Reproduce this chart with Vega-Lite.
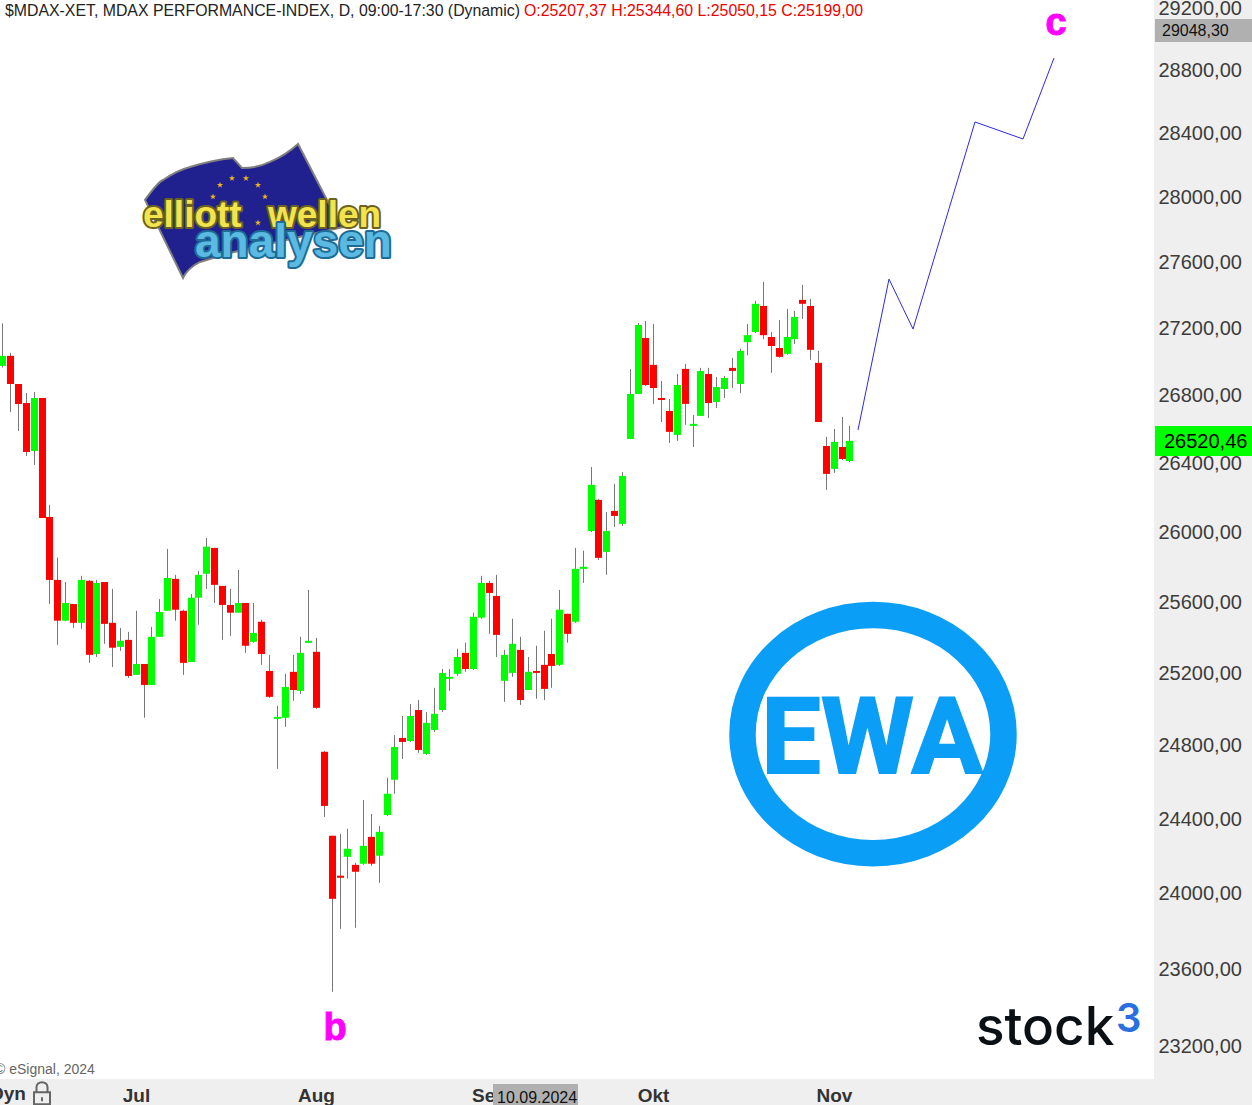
{"$schema":"https://vega.github.io/schema/vega-lite/v6.json","width":1154,"height":1079,"autosize":"none","padding":{"left":0,"top":0,"right":98,"bottom":26},"background":"#efefef","view":{"fill":"white","stroke":null},
"datasets":{"candles":[
{"bar":0,"open":26964,"high":27219,"low":26954,"close":27024,"dir":"up"},{"bar":1,"open":27024,"high":27042,"low":26690,"close":26856,"dir":"down"},{"bar":2,"open":26856,"high":26856,"low":26578,"close":26737,"dir":"down"},{"bar":3,"open":26743,"high":26802,"low":26431,"close":26455,"dir":"down"},{"bar":4,"open":26461,"high":26808,"low":26379,"close":26773,"dir":"up"},{"bar":5,"open":26773,"high":26773,"low":26071,"close":26071,"dir":"down"},{"bar":6,"open":26077,"high":26147,"low":25579,"close":25716,"dir":"down"},{"bar":7,"open":25716,"high":25843,"low":25349,"close":25485,"dir":"down"},{"bar":8,"open":25485,"high":25704,"low":25485,"close":25585,"dir":"up"},{"bar":9,"open":25579,"high":25579,"low":25444,"close":25473,"dir":"down"},
{"bar":10,"open":25473,"high":25739,"low":25439,"close":25716,"dir":"up"},{"bar":11,"open":25711,"high":25716,"low":25248,"close":25293,"dir":"down"},{"bar":12,"open":25298,"high":25716,"low":25281,"close":25699,"dir":"up"},{"bar":13,"open":25704,"high":25704,"low":25355,"close":25467,"dir":"down"},{"bar":14,"open":25473,"high":25665,"low":25225,"close":25333,"dir":"down"},{"bar":15,"open":25338,"high":25444,"low":25315,"close":25372,"dir":"up"},{"bar":16,"open":25377,"high":25422,"low":25164,"close":25175,"dir":"down"},{"bar":17,"open":25181,"high":25541,"low":25181,"close":25242,"dir":"up"},{"bar":18,"open":25242,"high":25242,"low":24943,"close":25125,"dir":"down"},{"bar":19,"open":25125,"high":25450,"low":25125,"close":25394,"dir":"up"},
{"bar":20,"open":25394,"high":25607,"low":25394,"close":25534,"dir":"up"},{"bar":21,"open":25541,"high":25893,"low":25541,"close":25727,"dir":"up"},{"bar":22,"open":25722,"high":25745,"low":25485,"close":25547,"dir":"down"},{"bar":23,"open":25541,"high":25547,"low":25181,"close":25248,"dir":"down"},{"bar":24,"open":25253,"high":25636,"low":25253,"close":25615,"dir":"up"},{"bar":25,"open":25615,"high":25767,"low":25462,"close":25745,"dir":"up"},{"bar":26,"open":25751,"high":25956,"low":25665,"close":25906,"dir":"up"},{"bar":27,"open":25899,"high":25899,"low":25585,"close":25688,"dir":"down"},{"bar":28,"open":25682,"high":25682,"low":25377,"close":25574,"dir":"down"},{"bar":29,"open":25574,"high":25665,"low":25399,"close":25530,"dir":"down"},
{"bar":30,"open":25530,"high":25773,"low":25530,"close":25585,"dir":"up"},{"bar":31,"open":25585,"high":25585,"low":25304,"close":25344,"dir":"down"},{"bar":32,"open":25366,"high":25585,"low":25360,"close":25416,"dir":"up"},{"bar":33,"open":25479,"high":25490,"low":25237,"close":25298,"dir":"down"},{"bar":34,"open":25203,"high":25293,"low":25053,"close":25059,"dir":"down"},{"bar":35,"open":24937,"high":25009,"low":24663,"close":24948,"dir":"up"},{"bar":36,"open":24943,"high":25187,"low":24893,"close":25114,"dir":"up"},{"bar":37,"open":25198,"high":25293,"low":25037,"close":25097,"dir":"down"},{"bar":38,"open":25092,"high":25394,"low":25075,"close":25304,"dir":"up"},{"bar":39,"open":25360,"high":25659,"low":25360,"close":25372,"dir":"up"},
{"bar":40,"open":25310,"high":25388,"low":24992,"close":24998,"dir":"down"},{"bar":41,"open":24756,"high":24761,"low":24401,"close":24461,"dir":"down"},{"bar":42,"open":24300,"high":24300,"low":23475,"close":23963,"dir":"down"},{"bar":43,"open":24086,"high":24310,"low":23804,"close":24075,"dir":"down"},{"bar":44,"open":24187,"high":24337,"low":24070,"close":24230,"dir":"up"},{"bar":45,"open":24144,"high":24155,"low":23810,"close":24107,"dir":"down"},{"bar":46,"open":24150,"high":24493,"low":24144,"close":24246,"dir":"up"},{"bar":47,"open":24294,"high":24417,"low":24139,"close":24150,"dir":"down"},{"bar":48,"open":24193,"high":24353,"low":24048,"close":24321,"dir":"up"},{"bar":49,"open":24412,"high":24614,"low":24406,"close":24527,"dir":"up"},
{"bar":50,"open":24603,"high":24848,"low":24527,"close":24782,"dir":"up"},{"bar":51,"open":24832,"high":24953,"low":24717,"close":24810,"dir":"down"},{"bar":52,"open":24815,"high":25019,"low":24810,"close":24953,"dir":"up"},{"bar":53,"open":24986,"high":25041,"low":24750,"close":24766,"dir":"down"},{"bar":54,"open":24744,"high":24975,"low":24739,"close":24915,"dir":"up"},{"bar":55,"open":24876,"high":25109,"low":24865,"close":24965,"dir":"up"},{"bar":56,"open":24986,"high":25214,"low":24975,"close":25192,"dir":"up"},{"bar":57,"open":25159,"high":25214,"low":25092,"close":25170,"dir":"up"},{"bar":58,"open":25187,"high":25327,"low":25176,"close":25281,"dir":"up"},{"bar":59,"open":25304,"high":25361,"low":25198,"close":25214,"dir":"down"},
{"bar":60,"open":25214,"high":25530,"low":25209,"close":25507,"dir":"up"},{"bar":61,"open":25502,"high":25739,"low":25496,"close":25699,"dir":"up"},{"bar":62,"open":25699,"high":25711,"low":25411,"close":25642,"dir":"down"},{"bar":63,"open":25625,"high":25745,"low":25281,"close":25405,"dir":"down"},{"bar":64,"open":25148,"high":25321,"low":25031,"close":25293,"dir":"up"},{"bar":65,"open":25192,"high":25496,"low":25170,"close":25355,"dir":"up"},{"bar":66,"open":25321,"high":25394,"low":25014,"close":25041,"dir":"down"},{"bar":67,"open":25097,"high":25281,"low":25097,"close":25198,"dir":"up"},{"bar":68,"open":25203,"high":25344,"low":25048,"close":25192,"dir":"down"},{"bar":69,"open":25237,"high":25428,"low":25041,"close":25103,"dir":"down"},
{"bar":70,"open":25298,"high":25496,"low":25109,"close":25231,"dir":"down"},{"bar":71,"open":25237,"high":25659,"low":25231,"close":25547,"dir":"up"},{"bar":72,"open":25524,"high":25524,"low":25361,"close":25411,"dir":"down"},{"bar":73,"open":25479,"high":25899,"low":25473,"close":25779,"dir":"up"},{"bar":74,"open":25779,"high":25883,"low":25699,"close":25791,"dir":"up"},{"bar":75,"open":25996,"high":26367,"low":25990,"close":26263,"dir":"up"},{"bar":76,"open":26176,"high":26182,"low":25830,"close":25842,"dir":"down"},{"bar":77,"open":25876,"high":26106,"low":25745,"close":25996,"dir":"up"},{"bar":78,"open":26112,"high":26269,"low":26019,"close":26083,"dir":"down"},{"bar":79,"open":26037,"high":26338,"low":26025,"close":26315,"dir":"up"},
{"bar":80,"open":26531,"high":26945,"low":26531,"close":26797,"dir":"up"},{"bar":81,"open":26797,"high":27221,"low":26797,"close":27209,"dir":"up"},{"bar":82,"open":27131,"high":27233,"low":26844,"close":26850,"dir":"down"},{"bar":83,"open":26970,"high":27215,"low":26738,"close":26832,"dir":"down"},{"bar":84,"open":26773,"high":26874,"low":26631,"close":26761,"dir":"down"},{"bar":85,"open":26696,"high":26767,"low":26508,"close":26573,"dir":"down"},{"bar":86,"open":26555,"high":26916,"low":26520,"close":26850,"dir":"up"},{"bar":87,"open":26946,"high":26976,"low":26614,"close":26738,"dir":"down"},{"bar":88,"open":26608,"high":26673,"low":26484,"close":26620,"dir":"up"},{"bar":89,"open":26667,"high":26952,"low":26667,"close":26934,"dir":"up"},
{"bar":90,"open":26916,"high":26952,"low":26655,"close":26743,"dir":"down"},{"bar":91,"open":26749,"high":26898,"low":26714,"close":26838,"dir":"up"},{"bar":92,"open":26826,"high":26904,"low":26773,"close":26892,"dir":"up"},{"bar":93,"open":26952,"high":27012,"low":26832,"close":26934,"dir":"down"},{"bar":94,"open":26856,"high":27066,"low":26802,"close":27054,"dir":"up"},{"bar":95,"open":27106,"high":27215,"low":27027,"close":27148,"dir":"up"},{"bar":96,"open":27167,"high":27355,"low":27161,"close":27337,"dir":"up"},{"bar":97,"open":27324,"high":27470,"low":27124,"close":27148,"dir":"down"},{"bar":98,"open":27137,"high":27167,"low":26922,"close":27083,"dir":"down"},{"bar":99,"open":27071,"high":27239,"low":27012,"close":27018,"dir":"down"},
{"bar":100,"open":27036,"high":27306,"low":27030,"close":27137,"dir":"up"},{"bar":101,"open":27124,"high":27294,"low":27095,"close":27258,"dir":"up"},{"bar":102,"open":27361,"high":27452,"low":27246,"close":27337,"dir":"down"},{"bar":103,"open":27324,"high":27367,"low":27000,"close":27060,"dir":"down"},{"bar":104,"open":26982,"high":27054,"low":26631,"close":26631,"dir":"down"},{"bar":105,"open":26490,"high":26544,"low":26234,"close":26327,"dir":"down"},{"bar":106,"open":26356,"high":26590,"low":26333,"close":26514,"dir":"up"},{"bar":107,"open":26484,"high":26661,"low":26408,"close":26414,"dir":"down"},{"bar":108,"open":26402,"high":26608,"low":26396,"close":26520,"dir":"up"}
],
"forecast":[{"bar":109.1,"price":26584},{"bar":113.05,"price":27487},{"bar":116.1,"price":27185},{"bar":124.0,"price":28460},{"bar":130.1,"price":28353},{"bar":134.1,"price":28866}]},
"encoding":{"x":{"field":"bar","type":"quantitative","scale":{"domain":[-0.2996,146.84],"nice":false,"zero":false,"round":true,"padding":0},"axis":{"values":[17,40,62,83,106],"labelExpr":"datum.value==17?'Jul':datum.value==40?'Aug':datum.value==62?'Sep':datum.value==83?'Okt':'Nov'","title":null,"ticks":false,"domain":false,"grid":false,"labelFont":"Liberation Sans","labelFontWeight":"bold","labelFontSize":19,"labelColor":"#333333","labelPadding":7,"labelFlush":false,"labelOverlap":false,"labelBound":false}}},
"layer":[
{"data":{"name":"candles"},"mark":{"type":"rule","color":"#777777","strokeWidth":1,"xOffset":0.5},"encoding":{"y":{"field":"low","type":"quantitative","scale":{"type":"log","domain":[23026,29239],"nice":false,"zero":false},"axis":{"orient":"right","values":[23200,23600,24000,24400,24800,25200,25600,26000,26400,26800,27200,27600,28000,28400,28800,29200],"labelExpr":"replace(format(datum.value,'.2f'),'.',',')","title":null,"ticks":false,"domain":false,"grid":false,"labelFont":"Liberation Sans","labelFontSize":20,"labelColor":"#3c3c3c","labelPadding":4,"labelOffset":2,"labelFlush":false,"labelOverlap":false,"labelBound":false}},"y2":{"field":"high"}}},
{"data":{"name":"candles"},"mark":{"type":"bar","size":7,"xOffset":0.5},"encoding":{"y":{"field":"open","type":"quantitative"},"y2":{"field":"close"},"color":{"field":"dir","type":"nominal","scale":{"domain":["up","down"],"range":["#00ff00","#ff0000"]},"legend":null}}},
{"data":{"name":"forecast"},"mark":{"type":"line","color":"#2a2ae6","strokeWidth":1},"encoding":{"y":{"field":"price","type":"quantitative"}}},
{"data":{"values":[{"bar":33.87,"price":27911}]},"mark":{"type":"point","filled":true,"opacity":1,"fill":"#20208f","stroke":"#808080","strokeWidth":2,"shape":"M-1.23,-.10Q-1.1,-.28 -1.05,-.30Q-.9,-.40 -.78,-.43Q-.55,-.50 -.35,-.52L-.26,-.42Q-.1,-.42 .02,-.48Q.18,-.55 .30,-.66L.60,-.08L.75,.17L.05,.33L-.38,.43L-.68,.52Q-.8,.58 -.85,.68Z"},"encoding":{"y":{"field":"price","type":"quantitative"},"size":{"value":40000}}},
{"data":{"values":[{"bar":27.75,"price":28065},{"bar":29.32,"price":28107},{"bar":31.1,"price":28107},{"bar":32.6,"price":28065},{"bar":33.45,"price":27993},{"bar":26.9,"price":27993},{"bar":32.63,"price":27832}]},"mark":{"type":"point","filled":true,"opacity":1,"fill":"#f0b51e","shape":"M0,-1L.24,-.31L.95,-.31L.38,.12L.59,.81L0,.38L-.59,.81L-.38,.12L-.95,-.31L-.24,-.31Z"},"encoding":{"y":{"field":"price","type":"quantitative"},"size":{"value":42}}},
{"data":{"values":[{"label":"elliott","bar":17.93,"price":27806},{"label":"wellen","bar":33.87,"price":27806}]},"mark":{"type":"text","align":"left","baseline":"alphabetic","font":"Liberation Sans","fontWeight":"bold","fontSize":37,"fill":"#f3e44e","stroke":"#6a6220","strokeWidth":4,"strokeJoin":"round"},"encoding":{"y":{"field":"price","type":"quantitative"},"text":{"field":"label"}}},
{"data":{"values":[{"label":"elliott","bar":17.93,"price":27806},{"label":"wellen","bar":33.87,"price":27806}]},"mark":{"type":"text","align":"left","baseline":"alphabetic","font":"Liberation Sans","fontWeight":"bold","fontSize":37,"fill":"#f3e44e"},"encoding":{"y":{"field":"price","type":"quantitative"},"text":{"field":"label"}}},
{"data":{"values":[{"label":"analysen","bar":24.56,"price":27622}]},"mark":{"type":"text","align":"left","baseline":"alphabetic","font":"Liberation Sans","fontWeight":"bold","fontSize":46,"fill":"#5bb9e2","stroke":"#1c6c96","strokeWidth":4,"strokeJoin":"round"},"encoding":{"y":{"field":"price","type":"quantitative"},"text":{"field":"label"}}},
{"data":{"values":[{"label":"analysen","bar":24.56,"price":27622}]},"mark":{"type":"text","align":"left","baseline":"alphabetic","font":"Liberation Sans","fontWeight":"bold","fontSize":46,"fill":"#5bb9e2"},"encoding":{"y":{"field":"price","type":"quantitative"},"text":{"field":"label"}}},
{"data":{"values":[{"bar":111.01,"price":24853}]},"mark":{"type":"point","filled":false,"opacity":1,"stroke":"#0b9ef7","strokeWidth":26.5,"shape":"M-1,0A1,.912 0 1 1 1,0A1,.912 0 1 1 -1,0Z"},"encoding":{"y":{"field":"price","type":"quantitative"},"size":{"value":68121}}},
{"data":{"values":[{"label":"EWA","bar":110.88,"price":24640}]},"mark":{"type":"text","align":"center","baseline":"alphabetic","font":"Roboto","fontWeight":"bold","fontSize":106,"fill":"#0b9ef7","stroke":"#0b9ef7","strokeWidth":2},"encoding":{"y":{"field":"price","type":"quantitative"},"text":{"field":"label"}}},
{"data":{"values":[{"label":"stock","bar":124.14,"price":23200}]},"mark":{"type":"text","align":"left","baseline":"alphabetic","font":"Inter","fontWeight":500,"fontSize":53,"fill":"#0b1014"},"encoding":{"y":{"field":"price","type":"quantitative"},"text":{"field":"label"}}},
{"data":{"values":[{"label":"3","bar":142.0,"price":23266}]},"mark":{"type":"text","align":"left","baseline":"alphabetic","font":"Inter","fontWeight":600,"fontSize":40,"fill":"#2a6fe0"},"encoding":{"y":{"field":"price","type":"quantitative"},"text":{"field":"label"}}},
{"data":{"values":[{"label":"c","bar":134.35,"price":29013},{"label":"b","bar":42.4,"price":23226}]},"mark":{"type":"text","align":"center","baseline":"alphabetic","font":"Liberation Sans","fontWeight":"bold","fontSize":38,"fill":"#ff00ff","stroke":"#ff00ff","strokeWidth":1},"encoding":{"y":{"field":"price","type":"quantitative"},"text":{"field":"label"}}},
{"data":{"values":[{"label":"$MDAX-XET, MDAX PERFORMANCE-INDEX, D, 09:00-17:30 (Dynamic)","bar":0.34,"price":29181}]},"mark":{"type":"text","align":"left","baseline":"middle","dy":2,"font":"Liberation Sans","fontSize":15.85,"fill":"#222222"},"encoding":{"y":{"field":"price","type":"quantitative"},"text":{"field":"label"}}},
{"data":{"values":[{"label":"O:25207,37 H:25344,60 L:25050,15 C:25199,00","bar":66.5,"price":29181}]},"mark":{"type":"text","align":"left","baseline":"middle","dy":2,"font":"Liberation Sans","fontSize":15.85,"fill":"#ee0000"},"encoding":{"y":{"field":"price","type":"quantitative"},"text":{"field":"label"}}},
{"data":{"values":[{"label":"© eSignal, 2024","bar":-0.94,"price":23051}]},"mark":{"type":"text","align":"left","baseline":"alphabetic","font":"Liberation Sans","fontSize":14,"fill":"#666666"},"encoding":{"y":{"field":"price","type":"quantitative"},"text":{"field":"label"}}},
{"data":{"values":[{"label":"Dyn","bar":-1.575,"price":22919}]},"mark":{"type":"text","align":"left","baseline":"alphabetic","font":"Liberation Sans","fontWeight":"bold","fontSize":19,"fill":"#333333"},"encoding":{"y":{"field":"price","type":"quantitative"},"text":{"field":"label"}}},
{"data":{"values":[{"bar":5.06,"price":22949}]},"mark":{"type":"point","filled":false,"opacity":1,"stroke":"#666666","strokeWidth":2,"shape":"M-.8,-.2H.8V1H-.8ZM-.55,-.2V-.7A.55,.5 0 0 1 .55,-.7V-.2M0,.3V.7"},"encoding":{"y":{"field":"price","type":"quantitative"},"size":{"value":400}}},
{"data":{"values":[{"bar":146.97,"bar2":159.33,"low":28968,"high":29116},{"bar":62.56,"bar2":73.4,"low":22894,"high":23000}]},"mark":{"type":"rect","fill":"#b0b0b0"},"encoding":{"x2":{"field":"bar2"},"y":{"field":"low","type":"quantitative"},"y2":{"field":"high"}}},
{"data":{"values":[{"bar":146.97,"bar2":159.33,"low":26432,"high":26607}]},"mark":{"type":"rect","fill":"#00ff00"},"encoding":{"x2":{"field":"bar2"},"y":{"field":"low","type":"quantitative"},"y2":{"field":"high"}}},
{"data":{"values":[{"label":"29048,30","bar":147.86,"price":29048}]},"mark":{"type":"text","align":"left","baseline":"middle","dy":1,"font":"Liberation Sans","fontSize":16,"fill":"#111111"},"encoding":{"y":{"field":"price","type":"quantitative"},"text":{"field":"label"}}},
{"data":{"values":[{"label":"26520,46","bar":148.1,"price":26520}]},"mark":{"type":"text","align":"left","baseline":"middle","dy":1,"font":"Liberation Sans","fontSize":20,"fill":"#000000"},"encoding":{"y":{"field":"price","type":"quantitative"},"text":{"field":"label"}}},
{"data":{"values":[{"label":"10.09.2024","bar":63.07,"price":22904}]},"mark":{"type":"text","align":"left","baseline":"alphabetic","font":"Liberation Sans","fontSize":16,"fill":"#111111"},"encoding":{"y":{"field":"price","type":"quantitative"},"text":{"field":"label"}}}
]}
